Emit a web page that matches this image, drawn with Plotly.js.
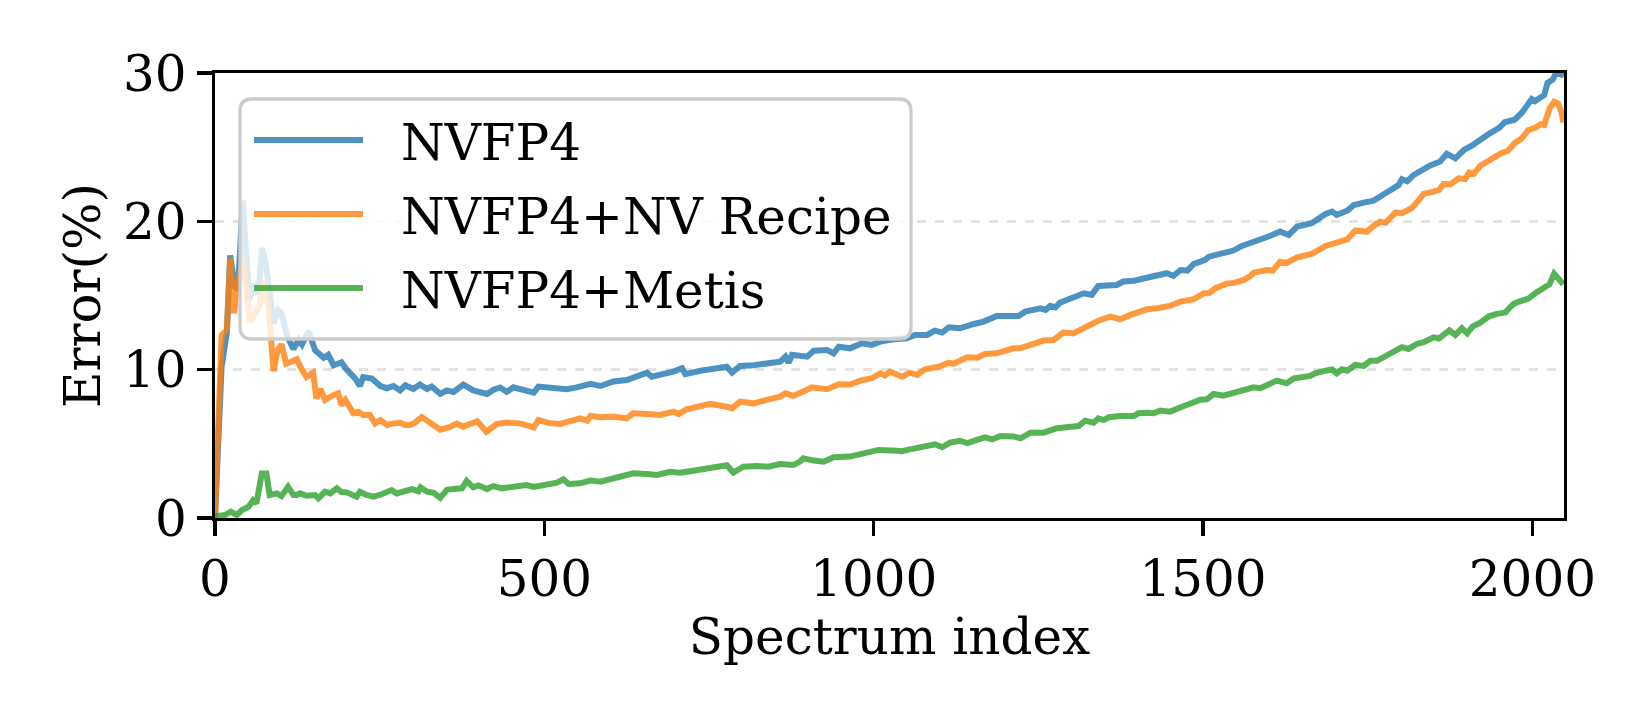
<!DOCTYPE html>
<html>
<head>
<meta charset="utf-8">
<script src="https://cdn.plot.ly/plotly-3.0.1.min.js"></script>
<style>
  html, body { margin: 0; padding: 0; background: #ffffff; }
  #chart { width: 1650px; height: 720px; }
</style>
</head>
<body>
<div id="chart"></div>
<script>
// ---- Data ----
const seriesNames = ["NVFP4", "NVFP4+NV Recipe", "NVFP4+Metis"];

const nvfp4X = [0,10,18,23,30,35,42,52,59,66,71,77,89,96,101,110,119,127,132,142,152,165,172,180,192,200,213,220,225,238,251,261,271,281,289,301,311,322,329,342,352,362,377,392,413,423,433,443,453,473,484,491,514,534,549,570,585,605,625,640,656,663,681,696,709,714,737,757,777,785,797,818,838,858,866,871,876,893,899,909,929,939,947,964,982,997,1010,1030,1050,1063,1081,1093,1104,1114,1131,1152,1167,1187,1202,1220,1230,1253,1261,1268,1276,1283,1293,1319,1331,1341,1369,1379,1395,1415,1435,1445,1455,1466,1476,1486,1496,1503,1509,1519,1534,1546,1559,1577,1592,1605,1617,1630,1643,1665,1676,1686,1696,1703,1719,1729,1744,1759,1769,1782,1797,1802,1810,1820,1832,1845,1860,1870,1883,1896,1908,1920,1936,1944,1950,1958,1973,1984,1992,1999,2004,2018,2023,2031,2036,2044,2047];
const nvfp4Y = [0,10.2,12.5,17.7,15.6,15.4,21.4,14.7,15.8,15.1,18.2,17.2,13.1,14.0,13.8,12.2,11.4,12.0,11.7,12.6,11.3,10.8,11.0,10.3,10.5,10.0,9.4,8.9,9.5,9.4,8.9,8.75,8.9,8.6,8.95,8.7,9.0,8.7,8.86,8.36,8.6,8.5,9.0,8.6,8.36,8.65,8.8,8.5,8.81,8.63,8.45,8.86,8.81,8.68,8.81,9.04,8.9,9.2,9.3,9.57,9.8,9.53,9.7,9.87,10.1,9.7,9.93,10.02,10.2,9.8,10.25,10.3,10.47,10.54,10.88,10.47,11.0,10.92,10.88,11.28,11.33,11.1,11.55,11.44,11.78,11.67,11.89,12.05,12.12,12.34,12.34,12.63,12.5,12.86,12.79,13.08,13.24,13.62,13.62,13.62,13.91,14.14,14.03,14.3,14.2,14.52,14.7,15.15,15.04,15.64,15.71,15.94,16.0,16.23,16.39,16.5,16.32,16.72,16.68,17.13,17.28,17.4,17.62,17.73,17.85,18.03,18.34,18.57,18.86,19.08,19.31,19.08,19.65,19.87,20.21,20.5,20.66,20.43,20.72,21.1,21.26,21.4,21.67,22.05,22.45,22.84,22.7,23.13,23.45,23.77,24.03,24.56,24.25,24.81,25.1,25.5,25.95,26.16,26.32,26.68,26.85,27.32,27.82,28.24,28.1,28.52,29.33,29.56,30.0,29.9,30.1];

const recipeX = [0,10,18,23,29,33,43,53,61,68,73,81,89,95,101,108,114,124,132,139,149,154,160,167,180,187,192,198,210,218,225,235,243,251,261,266,271,281,289,296,302,314,327,342,355,367,377,387,398,412,423,428,443,463,484,491,509,524,542,554,565,570,585,605,625,635,656,676,696,704,716,737,752,777,785,797,818,838,858,866,878,893,906,929,947,964,980,997,1010,1017,1025,1043,1055,1066,1078,1099,1114,1121,1142,1157,1169,1187,1212,1222,1240,1258,1273,1288,1303,1324,1341,1359,1374,1390,1415,1430,1450,1466,1486,1501,1509,1519,1536,1547,1557,1562,1572,1577,1597,1606,1617,1627,1643,1658,1665,1686,1696,1703,1719,1731,1749,1759,1769,1777,1792,1802,1817,1825,1835,1850,1858,1865,1876,1888,1898,1904,1911,1921,1937,1945,1952,1963,1973,1984,1994,2005,2013,2018,2026,2033,2039,2044,2047];
const recipeY = [0,12.3,12.7,17.5,13.8,15.6,17.4,13.2,13.8,14.3,16.0,14.3,9.9,11.3,11.7,10.4,10.5,10.7,10.0,9.5,9.8,8.05,8.7,7.96,8.3,8.4,7.6,7.96,7.06,7.15,6.95,6.95,6.38,6.6,6.27,6.34,6.38,6.42,6.27,6.27,6.38,6.8,6.38,5.95,6.1,6.36,6.16,6.38,6.52,5.82,6.27,6.34,6.43,6.38,6.11,6.6,6.38,6.34,6.56,6.72,6.56,6.88,6.79,6.83,6.72,7.06,7.01,6.95,7.17,7.01,7.33,7.5,7.69,7.5,7.39,7.84,7.73,7.96,8.18,8.4,8.23,8.52,8.81,8.68,9.01,9.0,9.26,9.42,9.75,9.6,9.87,9.53,9.8,9.64,10.02,10.2,10.47,10.4,10.83,10.8,11.06,11.1,11.44,11.44,11.73,11.96,12.0,12.5,12.45,12.95,13.3,13.58,13.4,13.69,14.07,14.14,14.3,14.59,14.75,15.15,15.15,15.49,15.8,15.85,15.95,16.05,16.32,16.54,16.72,16.68,17.28,17.2,17.58,17.67,17.8,18.34,18.45,18.57,18.79,19.37,19.31,19.69,19.98,19.9,20.59,20.55,20.9,21.3,21.85,22.0,22.1,22.52,22.5,22.9,22.85,23.29,23.2,23.75,24.23,24.41,24.58,24.76,25.27,25.6,26.16,26.32,26.55,26.5,27.59,28.06,27.95,27.36,26.66];

const metisX = [0,3,15,24,33,41,51,58,63,71,78,83,94,101,111,119,124,129,139,152,157,167,175,185,192,200,215,220,230,241,253,268,276,286,299,309,312,322,332,342,352,362,375,382,392,400,413,418,423,435,453,473,484,504,519,529,537,554,570,585,605,615,635,656,671,691,706,726,747,767,777,787,802,823,840,858,878,888,893,909,924,939,964,985,1007,1035,1043,1055,1081,1093,1104,1116,1131,1142,1164,1169,1180,1192,1212,1223,1238,1258,1278,1298,1311,1321,1334,1341,1349,1357,1374,1395,1402,1415,1425,1435,1450,1471,1483,1496,1506,1516,1531,1546,1562,1577,1587,1602,1612,1627,1638,1663,1670,1686,1696,1703,1711,1719,1731,1744,1754,1764,1774,1789,1802,1812,1825,1835,1845,1850,1858,1874,1883,1893,1901,1909,1921,1934,1946,1959,1967,1972,1984,1994,2005,2015,2026,2033,2041,2047];
const metisY = [0,0.13,0.2,0.43,0.2,0.54,0.76,1.2,1.0,3.0,3.0,1.55,1.66,1.48,2.1,1.55,1.55,1.66,1.5,1.55,1.33,1.77,1.66,2.0,1.75,1.73,1.44,1.77,1.55,1.44,1.6,1.88,1.66,1.77,1.95,1.8,2.06,1.77,1.7,1.36,1.9,1.95,2.0,2.5,2.07,2.2,1.95,2.07,2.15,2.0,2.07,2.22,2.1,2.29,2.38,2.6,2.29,2.34,2.52,2.45,2.67,2.74,3.01,2.97,2.9,3.12,3.05,3.19,3.35,3.46,3.55,3.06,3.46,3.5,3.46,3.64,3.57,3.8,4.02,3.87,3.8,4.09,4.14,4.36,4.59,4.54,4.5,4.63,4.81,4.97,4.77,5.08,5.21,5.05,5.37,5.44,5.3,5.53,5.5,5.37,5.75,5.75,6.05,6.16,6.2,6.56,6.43,6.72,6.6,6.79,6.88,6.88,7.06,7.1,7.06,7.24,7.17,7.55,7.73,7.98,8.0,8.36,8.25,8.42,8.63,8.81,8.75,9.04,9.26,9.08,9.42,9.58,9.75,9.93,10.02,9.75,10.02,9.93,10.32,10.25,10.6,10.6,10.83,11.18,11.52,11.4,11.75,11.85,12.05,12.18,12.1,12.65,12.34,12.79,12.45,12.9,13.17,13.6,13.76,13.85,14.25,14.45,14.65,14.79,15.18,15.48,15.76,16.46,16.13,15.76];

const yTickVals = [0, 10, 20, 30];
const xTickVals = [0, 500, 1000, 1500, 2000];

// ---- Styling ----
const colors = ["#1f77b4", "#ff7f0e", "#2ca02c"];
const FONT = "DejaVu Serif, Liberation Serif, serif";

const W = 1650, H = 720;
const M = { l: 215, r: 86, t: 73, b: 202 };
const PW = W - M.l - M.r, PH = H - M.t - M.b;
// pixel -> paper coordinates (for the legend box drawn as shapes)
const px2x = p => (p - M.l) / PW;
const py2y = p => (H - M.b - p) / PH;

const xs = [nvfp4X, recipeX, metisX];
const ys = [nvfp4Y, recipeY, metisY];

const traces = seriesNames.map((name, k) => ({
  type: "scatter",
  mode: "lines",
  name: name,
  x: xs[k],
  y: ys[k],
  opacity: 0.8,
  showlegend: false,
  line: { color: colors[k], width: 6 }
}));

// ---- Legend (matplotlib style: rounded, semi-transparent frame) ----
const LB = { l: 240, t: 99, r: 911, b: 339, rad: 12 };
function roundedRectPath(b) {
  const x0 = px2x(b.l), x1 = px2x(b.r), y0 = py2y(b.b), y1 = py2y(b.t);
  const rx = b.rad / PW, ry = b.rad / PH;
  return `M ${x0 + rx},${y1} L ${x1 - rx},${y1} Q ${x1},${y1} ${x1},${y1 - ry} ` +
         `L ${x1},${y0 + ry} Q ${x1},${y0} ${x1 - rx},${y0} L ${x0 + rx},${y0} ` +
         `Q ${x0},${y0} ${x0},${y0 + ry} L ${x0},${y1 - ry} Q ${x0},${y1} ${x0 + rx},${y1} Z`;
}
const shapes = [{
  type: "path", xref: "paper", yref: "paper", layer: "above",
  path: roundedRectPath(LB),
  fillcolor: "rgba(255,255,255,0.8)",
  line: { color: "#cccccc", width: 3.3 }
}];
const annotations = [];
const rowY = [140, 214, 288];
seriesNames.forEach((name, k) => {
  shapes.push({
    type: "line", xref: "paper", yref: "paper", layer: "above",
    x0: px2x(254), x1: px2x(363), y0: py2y(rowY[k]), y1: py2y(rowY[k]),
    opacity: 0.8,
    line: { color: colors[k], width: 6 }
  });
  annotations.push({
    xref: "paper", yref: "paper",
    x: px2x(399), y: py2y(rowY[k] + 3),
    xanchor: "left", yanchor: "middle",
    showarrow: false,
    text: name,
    font: { family: FONT, size: 50, color: "#000000" }
  });
});

const layout = {
  width: W,
  height: H,
  paper_bgcolor: "#ffffff",
  plot_bgcolor: "#ffffff",
  margin: { l: M.l, r: M.r, t: M.t, b: M.b, pad: 0 },
  font: { family: FONT, size: 50, color: "#000000" },
  showlegend: false,
  shapes: shapes,
  annotations: annotations,
  xaxis: {
    range: [0, 2048],
    tickvals: xTickVals,
    ticktext: xTickVals.map(String),
    ticks: "outside",
    ticklen: 15,
    tickwidth: 3.3,
    tickcolor: "#000000",
    showline: true,
    linecolor: "#000000",
    linewidth: 3.3,
    mirror: true,
    showgrid: false,
    zeroline: false,
    tickfont: { family: FONT, size: 50, color: "#000000" },
    title: { text: "Spectrum index", font: { family: FONT, size: 50, color: "#000000" }, standoff: 10 }
  },
  yaxis: {
    range: [0, 30],
    tickvals: yTickVals,
    ticktext: yTickVals.map(String),
    ticks: "outside",
    ticklen: 15,
    tickwidth: 3.3,
    tickcolor: "#000000",
    showline: true,
    linecolor: "#000000",
    linewidth: 3.3,
    mirror: true,
    showgrid: true,
    gridcolor: "#e3e3e3",
    gridwidth: 3,
    griddash: "dash",
    zeroline: false,
    tickfont: { family: FONT, size: 50, color: "#000000" },
    title: { text: "Error(%)", font: { family: FONT, size: 50, color: "#000000" }, standoff: 7 }
  }
};

Plotly.newPlot("chart", traces, layout, { staticPlot: true, displayModeBar: false });
</script>
</body>
</html>
